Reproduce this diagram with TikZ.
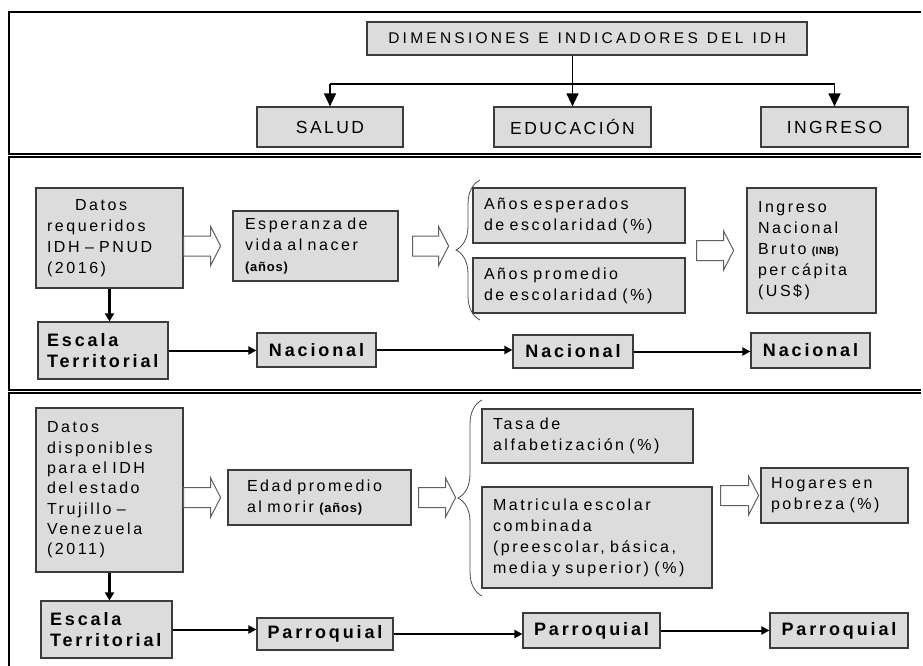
\documentclass[tikz,border=0pt]{standalone}
\usepackage{fontspec}
\setmainfont{Liberation Sans}[LetterSpace=16]
\usetikzlibrary{arrows.meta,decorations.pathreplacing}
\definecolor{boxfill}{RGB}{220,220,220}
\definecolor{boxline}{RGB}{60,60,60}
\newcommand{\titlefont}{\fontsize{15.5}{18}\selectfont\addfontfeatures{LetterSpace=21}}
\newcommand{\topfont}{\fontsize{17.5}{20}\selectfont\addfontfeatures{LetterSpace=14}}
\newcommand{\midfont}{\fontsize{16}{21}\selectfont\spaceskip=7.5pt plus 1pt\relax\hyphenpenalty=10000\relax}
\newcommand{\listfont}{\fontsize{16}{20.3}\selectfont\spaceskip=7.5pt plus 1pt\relax\hyphenpenalty=10000\relax}
\newcommand{\levelfont}{\fontsize{18}{21}\selectfont\bfseries\addfontfeatures{LetterSpace=16}}
\newcommand{\smallpar}[1]{{\fontsize{13}{14}\selectfont\bfseries\addfontfeatures{LetterSpace=6}#1}}
\newcommand{\gap}{\hspace{9pt}}
\newcommand{\hollowarrow}[3]{\draw[hollow] (#1) ++(#2,-10) -- ++({#3-10},0) -- ++(0,-9.5) -- ++(10,19.5) -- ++(-10,19.5) -- ++(0,-9.5) -- ++({10-#3},0) -- cycle;}
\tikzset{
  idhbox/.style={draw=boxline,fill=boxfill,line width=1.2pt,inner xsep=11pt,inner ysep=0pt},
  dims/.style n args={3}{minimum width=#1pt,minimum height=#2pt,text width=#3pt,align=left},
  topbox/.style={idhbox,font=\topfont,minimum height=40pt,align=center},
  midtext/.style={font=\midfont},
  scalebox/.style={idhbox,font=\levelfont},
  levelbox/.style={idhbox,font=\levelfont,inner xsep=4pt,align=center},
  thickarrow/.style={line width=2pt,-{Triangle[width=8pt,length=8pt]}},
  downarrow/.style={line width=2.6pt,-{Triangle[width=9pt,length=8pt]}},
  toparrow/.style={line width=1.3pt,-{Triangle[width=12pt,length=13pt]}},
  hollow/.style={draw=gray!75!black,fill=white,line width=1pt},
  curly/.style={draw=gray!60!black,line width=0.8pt,decorate,decoration={brace,amplitude=24pt}},
  panel/.style={line width=1.4pt}
}

\begin{document}
\begin{tikzpicture}[x=1pt,y=-1pt]
    \useasboundingbox (0,0) rectangle (923,666);

    \draw[panel] (921,12) -- (9,12) -- (9,154) -- (921,154);
    \draw[panel] (921,157) -- (9,157) -- (9,390) -- (921,390);
    \draw[panel] (921,393) -- (9,393) -- (9,666);

    \node[topbox,minimum width=440pt,minimum height=33pt,font=\titlefont] (title) at (587,38.5) {DIMENSIONES\gap E\gap INDICADORES\gap DEL\gap IDH};
    \node[topbox,minimum width=146pt] (salud) at (330,127) {SALUD};
    \node[topbox,minimum width=157pt] (educ) at (572.5,127) {EDUCACIÓN};
    \node[topbox,minimum width=147pt] (ingreso) at (834.5,127) {INGRESO};
    \coordinate (bar) at (0,84);
    \draw[line width=1.3pt] (bar -| salud) -- (bar -| ingreso);
    \draw[toparrow] (bar -| salud) -- (salud.north);
    \draw[toparrow] (bar -| ingreso) -- (ingreso.north);
    \draw[toparrow] (title.south -| educ) -- (educ.north);

    \node[idhbox,midtext,dims={147}{100}{125}] (datos1) at (109.5,238) {\hspace*{28pt}Datos\\requeridos\\IDH – PNUD\\(2016)};
    \node[idhbox,midtext,dims={165}{70}{141},inner xsep=12pt] (esper) at (315.5,246) {Esperanza de\\vida al nacer\\\smallpar{(años)}};
    \node[idhbox,midtext,dims={212}{55}{190}] (anosesp) at (579,215.5) {Años esperados\\de escolaridad (\%)};
    \node[idhbox,midtext,dims={212}{55}{190}] (anosprom) at (579,285.5) {Años promedio\\de escolaridad (\%)};
    \node[idhbox,midtext,dims={129}{125}{107}] (ingr) at (811.5,250.5) {Ingreso\\Nacional\\Bruto {\fontsize{10.5}{12}\selectfont\bfseries\addfontfeatures{LetterSpace=4}(INB)}\\per cápita\\(US\$)};
    \hollowarrow{datos1.east |- esper.west}{0}{37}
    \hollowarrow{esper.east}{14}{36}
    \hollowarrow{anosesp.east |- ingr.west}{11}{37}
    \draw[curly] (480,320) -- (480,180);

    \node[scalebox,dims={130}{57}{112},inner xsep=9pt] (escala1) at (103,350.5) {Escala\\Territorial};
    \node[levelbox,minimum width=119pt,minimum height=34pt] (nac1) at (316.5,350) {Nacional};
    \node[levelbox,minimum width=120pt,minimum height=33pt] (nac2) at (573,351.5) {Nacional};
    \node[levelbox,minimum width=119pt,minimum height=35pt] (nac3) at (810.5,350.5) {Nacional};
    \draw[downarrow] (datos1.south) -- (datos1.south |- escala1.north);
    \draw[thickarrow] (escala1.east) -- (escala1.east -| nac1.west);
    \draw[thickarrow] (nac1.east) -- (nac1.east -| nac2.west);
    \draw[thickarrow] (nac2.east) -- (nac2.east -| nac3.west);

    \node[idhbox,dims={147}{164}{125},font=\listfont] (datos2) at (109.5,490) {Datos\\disponibles\\para el IDH\\del estado\\Trujillo –\\Venezuela\\(2011)};
    \node[idhbox,midtext,dims={183}{55}{145},inner xsep=19pt] (edad) at (319.5,497.5) {Edad promedio\\al morir \smallpar{(años)}};
    \node[idhbox,midtext,dims={211}{54}{189}] (tasa) at (587.5,436) {Tasa de\\alfabetización (\%)};
    \node[idhbox,midtext,dims={230}{101}{208}] (matric) at (597,537.5) {Matricula escolar\\combinada\\(preescolar, básica,\\media y superior) (\%)};
    \node[idhbox,midtext,dims={147}{55}{127},inner xsep=10pt] (hogares) at (834.5,495.5) {Hogares en\\pobreza (\%)};
    \hollowarrow{datos2.east |- edad.west}{0}{37}
    \hollowarrow{edad.east}{7}{37}
    \hollowarrow{matric.east |- hogares.west}{8}{38}
    \draw[curly] (482,596) -- (482,400);

    \node[scalebox,dims={131}{57}{113},inner xsep=9pt] (escala2) at (106.5,629.5) {Escala\\Territorial};
    \node[levelbox,minimum width=136pt,minimum height=32pt] (parr1) at (325,634) {Parroquial};
    \node[levelbox,minimum width=137pt,minimum height=35pt] (parr2) at (591.5,630.5) {Parroquial};
    \node[levelbox,minimum width=138pt,minimum height=35pt] (parr3) at (839,630.5) {Parroquial};
    \draw[downarrow] (datos2.south) -- (datos2.south |- escala2.north);
    \draw[thickarrow] (escala2.east) -- (escala2.east -| parr1.west);
    \draw[thickarrow] (parr1.east) -- (parr1.east -| parr2.west);
    \draw[thickarrow] (parr2.east) -- (parr2.east -| parr3.west);
\end{tikzpicture}
\end{document}
